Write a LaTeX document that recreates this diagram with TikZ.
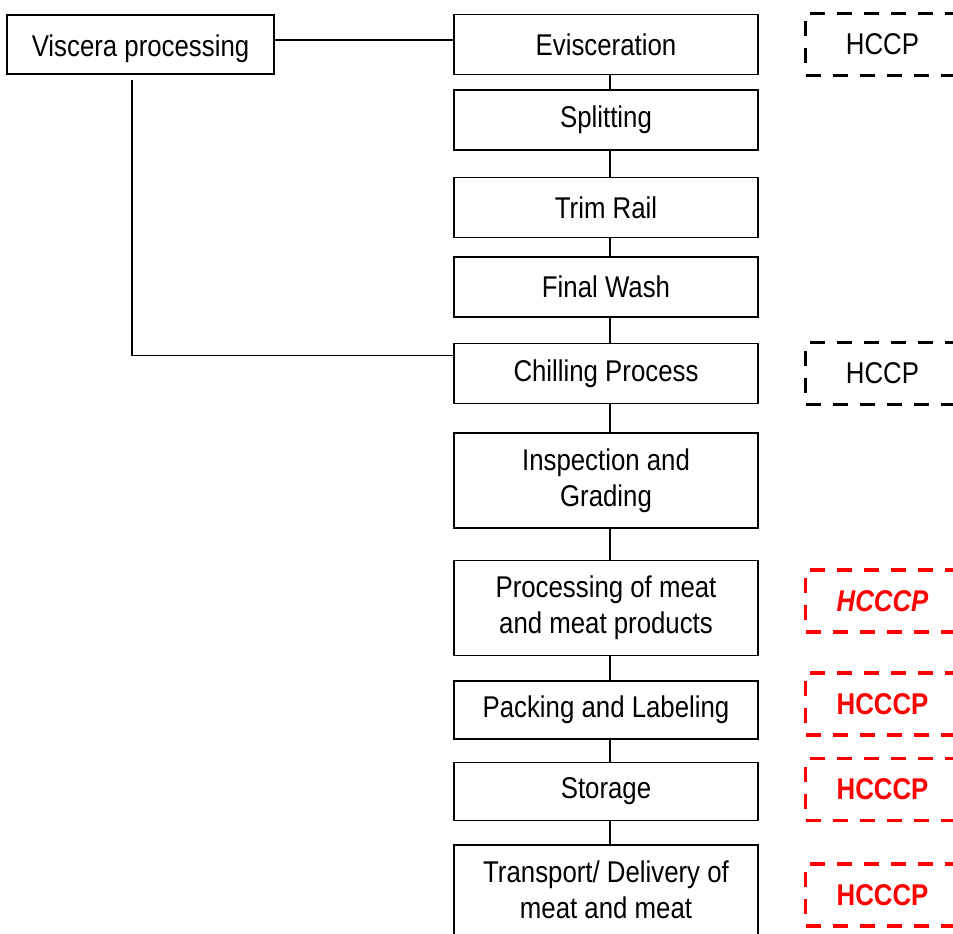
\documentclass[tikz,border=0pt]{standalone}
\usepackage{fontspec}
\setmainfont[FakeStretch=0.86]{Liberation Sans}
\usetikzlibrary{positioning}

\newcommand\boxfont{\fontsize{30}{36}\selectfont}

\tikzset{
  stepbox/.style={draw, line width=1.5pt, minimum width=304pt, minimum height=60pt, align=center, inner sep=4pt},
  tallbox/.style={stepbox, minimum height=95pt},
  ccpbox/.style={draw, dash pattern=on 15pt off 12pt, line width=3.5pt, minimum width=154pt, minimum height=62pt},
  redbox/.style={ccpbox, draw=red, text=red, font=\boxfont\bfseries},
  link/.style={line width=1.5pt}
}

\begin{document}
\begin{tikzpicture}[x=1pt, y=1pt, font=\boxfont]
\useasboundingbox (0,0) rectangle (953,-934);
% main line
\node (evisc)[stepbox] at (606,-44.5) {Evisceration};
\node (split)[stepbox, below=14pt of evisc] {Splitting};
\node (trim) [stepbox, below=26pt of split] {Trim Rail};
\node (wash) [stepbox, below=18pt of trim]  {Final Wash};
\node (chill)[stepbox, below=25pt of wash]  {Chilling Process};
\node (insp) [tallbox, below=28pt of chill] {Inspection and\\Grading};
\node (proc) [tallbox, below=31pt of insp]  {Processing of meat\\and meat products};
\node (pack) [stepbox, minimum height=58pt, below=24pt of proc] {Packing and Labeling};
\node (stor) [stepbox, minimum height=58pt, below=22pt of pack] {Storage};
\node (trans)[stepbox, inner ysep=16pt, text depth=30pt, below=23pt of stor] {Transport/ Delivery of\\meat and meat};
% side branch
\node (visc)[stepbox, minimum width=267pt, minimum height=59pt, text height=30pt, text depth=6pt] at (140.5,-44.5) {Viscera processing};
% control points
\node (ccp1)[ccpbox, right=45pt of evisc] {HCCP};
\node (ccp2)[ccpbox, right=45pt of chill] {HCCP};
\node (ccp3)[redbox, font=\boxfont\bfseries\itshape, right=45pt of proc, yshift=7pt] {HCCCP};
\node (ccp4)[redbox, right=45pt of pack, yshift=6pt] {HCCCP};
\node (ccp5)[redbox, right=45pt of stor, yshift=2pt] {HCCCP};
\node (ccp6)[redbox, below right=18pt and 45pt of trans.north east] {HCCCP};

\foreach \a/\b in {evisc/split, split/trim, trim/wash, wash/chill, chill/insp, insp/proc, proc/pack, pack/stor, stor/trans}
  \draw[link] ([xshift=4pt]\a.south) -- ([xshift=4pt]\b.north);

\coordinate (turn) at ([yshift=18pt]chill.west);
\draw[link] ([yshift=4.5pt]visc.east) -- ([yshift=4.5pt]evisc.west);
\draw[link] ([xshift=-8.5pt,yshift=-5pt]visc.south) |- (turn);
\end{tikzpicture}
\end{document}
